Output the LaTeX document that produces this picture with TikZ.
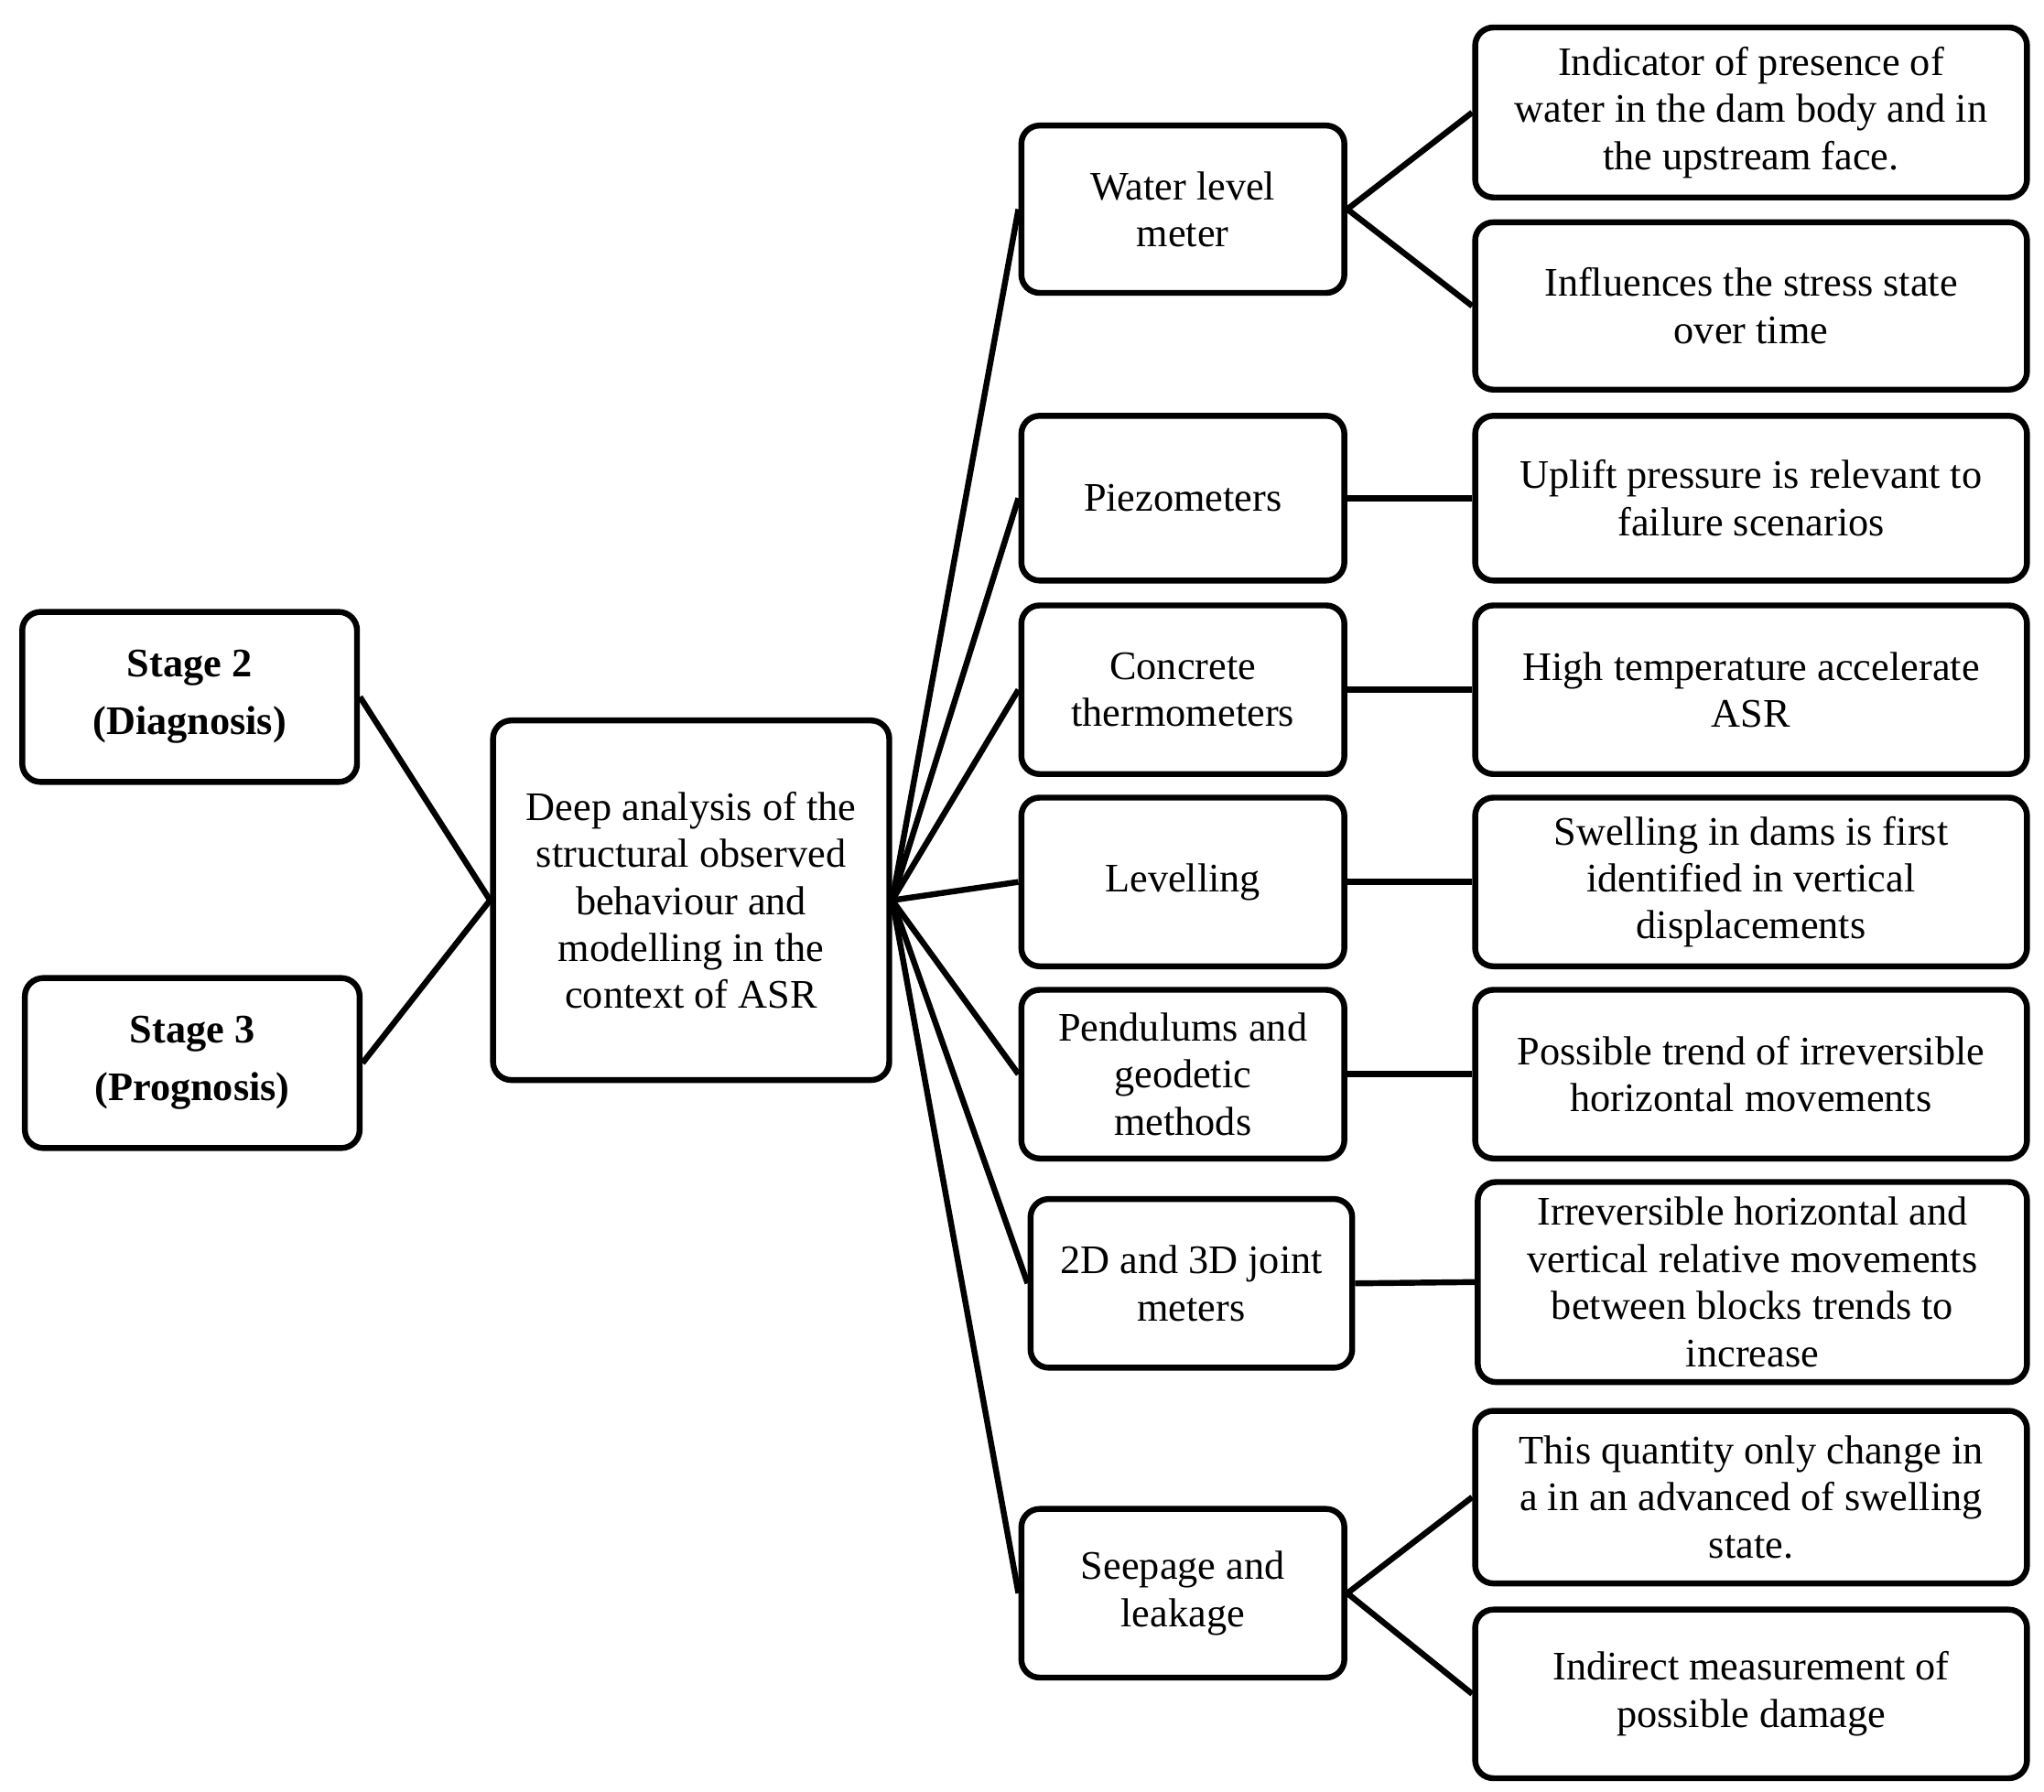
\documentclass[tikz,border=0pt]{standalone}
\usepackage{fontspec}
\setmainfont{Liberation Serif}
\begin{document}
\begin{tikzpicture}[x=1pt,y=-1pt,
  box/.style={draw,line width=4.5pt,rounded corners=14pt,align=center,inner sep=2pt,
    font=\fontsize{31}{36}\selectfont},
  ln/.style={line width=4.5pt}]
\useasboundingbox (0,0) rectangle (1563,1370);
\newcommand{\bx}[6]{\node[box,minimum width=#4-#2,minimum height=#5-#3] (#1) at ({(#2+#4)/2},{(#3+#5)/2}) {#6};}
\bx{s2}{17}{468}{273}{598}{\textbf{Stage 2}\\[8pt]\textbf{(Diagnosis)}}
\bx{s3}{19}{748}{275}{878}{\textbf{Stage 3}\\[8pt]\textbf{(Prognosis)}}
\bx{c}{377}{551}{680}{826}{Deep analysis of the\\structural observed\\behaviour and\\modelling in the\\context of ASR}
\bx{m1}{781}{96}{1028}{224}{Water level\\meter}
\bx{m2}{781}{318}{1028}{444}{Piezometers}
\bx{m3}{781}{463}{1028}{592}{Concrete\\thermometers}
\bx{m4}{781}{610}{1028}{739}{Levelling}
\bx{m5}{781}{757}{1028}{886}{Pendulums and\\geodetic\\methods}
\bx{m6}{788}{917}{1034}{1046}{2D and 3D joint\\meters}
\bx{m7}{781}{1154}{1028}{1283}{Seepage and\\leakage}
\bx{r1}{1128}{21}{1550}{151}{Indicator of presence of\\water in the dam body and in\\the upstream face.}
\bx{r2}{1128}{170}{1550}{298}{Influences the stress state\\over time}
\bx{r3}{1128}{318}{1550}{444}{Uplift pressure is relevant to\\failure scenarios}
\bx{r4}{1128}{463}{1550}{592}{High temperature accelerate\\ASR}
\bx{r5}{1128}{610}{1550}{739}{Swelling in dams is first\\identified in vertical\\displacements}
\bx{r6}{1128}{757}{1550}{886}{Possible trend of irreversible\\horizontal movements}
\bx{r7}{1130}{904}{1550}{1057}{Irreversible horizontal and\\vertical relative movements\\between blocks trends to\\increase}
\bx{r8}{1128}{1079}{1550}{1211}{This quantity only change in\\a in an advanced of swelling\\state.}
\bx{r9}{1128}{1231}{1550}{1360}{Indirect measurement of\\possible damage}
\draw[ln] (s2.east) -- (c.west);
\draw[ln] (s3.east) -- (c.west);
\foreach \m in {m1,m2,m3,m4,m5,m6,m7} \draw[ln] (c.east) -- (\m.west);
\draw[ln] (m1.east) -- (r1.west);
\draw[ln] (m1.east) -- (r2.west);
\draw[ln] (m2.east) -- (r3.west);
\draw[ln] (m3.east) -- (r4.west);
\draw[ln] (m4.east) -- (r5.west);
\draw[ln] (m5.east) -- (r6.west);
\draw[ln] (m6.east) -- (r7.west);
\draw[ln] (m7.east) -- (r8.west);
\draw[ln] (m7.east) -- (r9.west);
\end{tikzpicture}
\end{document}
